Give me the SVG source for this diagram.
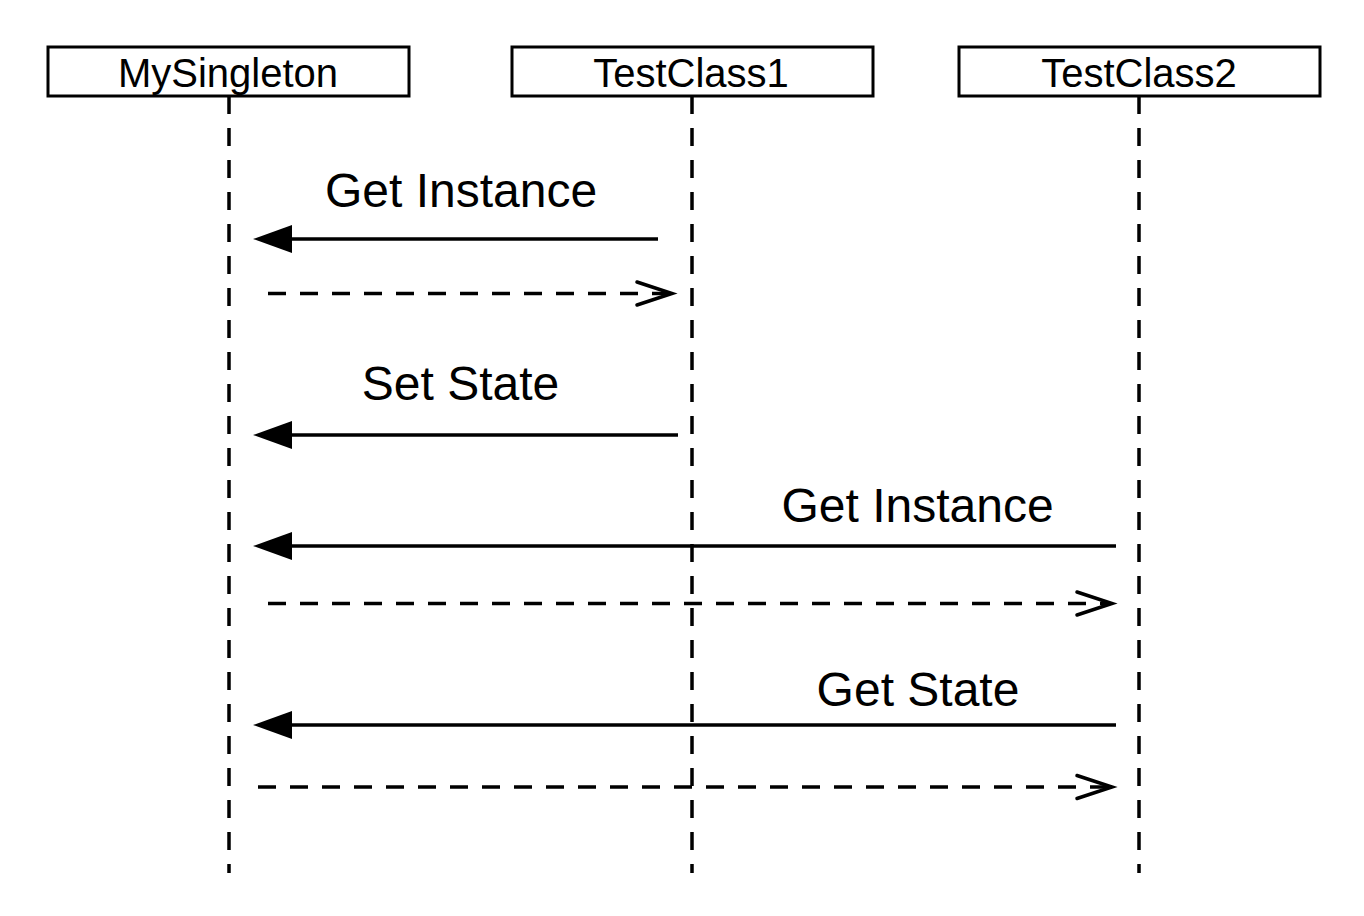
<svg xmlns="http://www.w3.org/2000/svg" width="1364" height="916" viewBox="0 0 1364 916">
<style>
.box{fill:#fff;stroke:#000;stroke-width:3}
.hdr{font-family:"Liberation Sans",Arial,sans-serif;font-size:40px;text-anchor:middle;fill:#000}
.lbl{font-family:"Liberation Sans",Arial,sans-serif;font-size:48px;text-anchor:middle;fill:#000}
.life{stroke:#000;stroke-width:3.5;stroke-dasharray:18 14;fill:none}
.call{stroke:#000;stroke-width:3.5;fill:none}
.ret{stroke:#000;stroke-width:3.5;stroke-dasharray:18 14;fill:none}
.head{fill:#000;stroke:none}
.open{fill:none;stroke:#000;stroke-width:3.5;stroke-linecap:round;stroke-linejoin:miter}
</style>
<rect width="1364" height="916" fill="#fff"/>
<g id="MySingleton">
<rect class="box" x="48" y="47" width="361" height="49"/>
<text class="hdr" x="228" y="87">MySingleton</text>
<line class="life" x1="229" y1="96" x2="229" y2="873"/>
</g>
<g id="TestClass1">
<rect class="box" x="512" y="47" width="361" height="49"/>
<text class="hdr" x="691" y="87">TestClass1</text>
<line class="life" x1="692" y1="96" x2="692" y2="873"/>
</g>
<g id="TestClass2">
<rect class="box" x="959" y="47" width="361" height="49"/>
<text class="hdr" x="1139" y="87">TestClass2</text>
<line class="life" x1="1139" y1="96" x2="1139" y2="873"/>
</g>
<g id="connectors">
<line class="call" x1="658" y1="239" x2="290" y2="239"/>
<polygon class="head" points="253,239 292,225 292,253"/>
<text class="lbl" x="461" y="207">Get Instance</text>

<line class="ret" x1="268" y1="293.5" x2="670" y2="293.5"/>
<polyline class="open" points="637,282 672,293.5 637,305"/>

<line class="call" x1="678" y1="435" x2="290" y2="435"/>
<polygon class="head" points="253,435 292,421 292,449"/>
<text class="lbl" x="460.5" y="400">Set State</text>

<line class="call" x1="1116" y1="546" x2="290" y2="546"/>
<polygon class="head" points="253,546 292,532 292,560"/>
<text class="lbl" x="917.5" y="522">Get Instance</text>

<line class="ret" x1="268" y1="603.5" x2="1110" y2="603.5"/>
<polyline class="open" points="1077,592 1112,603.5 1077,615"/>

<line class="call" x1="1116" y1="725" x2="290" y2="725"/>
<polygon class="head" points="253,725 292,711 292,739"/>
<text class="lbl" x="918" y="706">Get State</text>

<line class="ret" x1="258" y1="787" x2="1110" y2="787"/>
<polyline class="open" points="1077,775.5 1112,787 1077,798.5"/>
</g>
</svg>
